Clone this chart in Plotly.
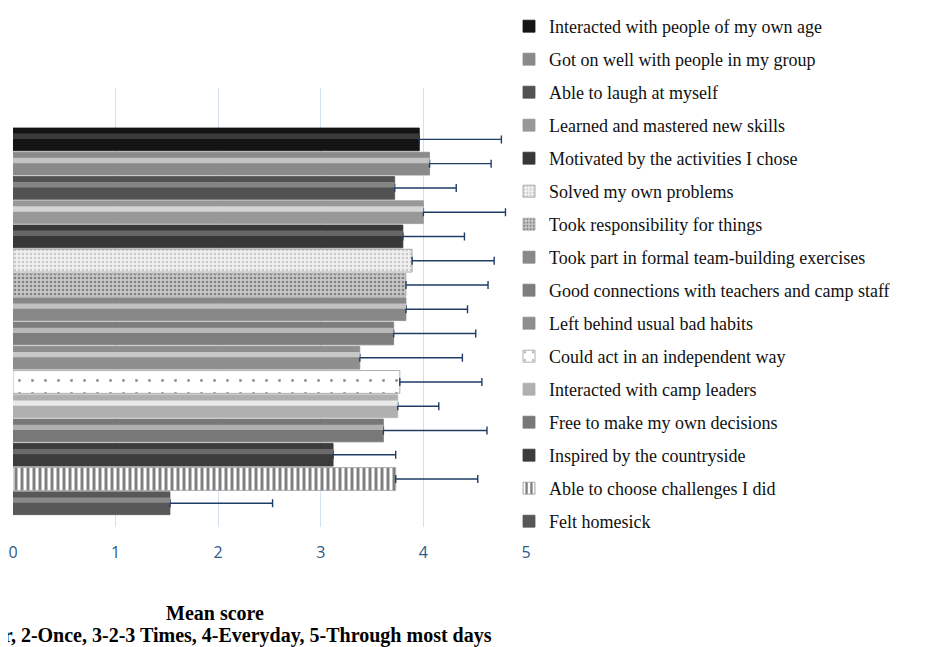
import plotly.graph_objects as go

# Categories, top to bottom as drawn
categories = [
    "Interacted with people of my own age",
    "Got on well with people in my group",
    "Able to laugh at myself",
    "Learned and mastered new skills",
    "Motivated by the activities I chose",
    "Solved my own problems",
    "Took responsibility for things",
    "Took part in formal team-building exercises",
    "Good connections with teachers and camp staff",
    "Left behind usual bad habits",
    "Could act in an independent way",
    "Interacted with camp leaders",
    "Free to make my own decisions",
    "Inspired by the countryside",
    "Able to choose challenges I did",
    "Felt homesick",
]
mean_scores = [3.96, 4.06, 3.72, 4.00, 3.80, 3.89, 3.83, 3.83, 3.71, 3.38, 3.77, 3.75, 3.61, 3.12, 3.73, 1.53]
std_devs = [0.80, 0.60, 0.60, 0.80, 0.60, 0.80, 0.80, 0.60, 0.80, 1.00, 0.80, 0.40, 1.01, 0.61, 0.80, 1.00]
x_ticks = [0, 1, 2, 3, 4, 5]

# styles (not data)
fills = ["#141414", "#8a8a8a", "#525252", "#989898", "#383838", "#ececec", "#a4a4a4", "#888888",
         "#7e7e7e", "#8e8e8e", "#ffffff", "#b0b0b0", "#787878", "#3c3c3c", "#ffffff", "#585858"]
highlights = ["#3a3a3a", "#c4c4c4", "#858585", "#d4d4d4", "#666666", None, None, "#c2c2c2",
              "#b8b8b8", "#c8c8c8", None, "#eaeaea", "#b0b0b0", "#6a6a6a", None, "#8a8a8a"]
patterns = {
    5: dict(shape=".", fgcolor="#9a9a9a", bgcolor="#efefef", size=4, solidity=0.25),
    6: dict(shape=".", fgcolor="#3c3c3c", bgcolor="#c8c8c8", size=4, solidity=0.35),
    10: dict(shape=".", fgcolor="#222222", bgcolor="#ffffff", size=13, solidity=0.04),
    14: dict(shape="|", fgcolor="#000000", bgcolor="#ffffff", size=6, solidity=0.5),
}

order_bottom_up = categories[::-1]

# page has an 8px body margin; figure sized to fit the window
W, H = 918, 639
L, R, T, B = 5, 400, 80, 120
pw, ph = W - L - R, H - T - B

def px_x(px):
    return (px - L) / pw

def px_y(py):
    return (H - B - py) / ph

fig = go.Figure()
for i, (cat, m, s) in enumerate(zip(categories, mean_scores, std_devs)):
    edge = "#9a9a9a" if fills[i] in ("#ffffff", "#ececec") else fills[i]
    marker = dict(color=fills[i], line=dict(width=0.8, color=edge))
    if i in patterns:
        marker["pattern"] = patterns[i]
    fig.add_trace(go.Bar(
        x=[m], y=[cat], orientation="h", name=cat,
        legendgroup="g%d" % i,
        marker=marker,
        error_x=dict(type="data", symmetric=False, array=[s], arrayminus=[0],
                     color="#1f3d66", thickness=1.4, width=4),
    ))
for i, (cat, m) in enumerate(zip(categories, mean_scores)):
    if highlights[i] is None:
        continue
    fig.add_trace(go.Bar(
        x=[m], y=[cat], orientation="h", showlegend=False, hoverinfo="skip",
        width=0.22, offset=0.02, legendgroup="g%d" % i,
        marker=dict(color=highlights[i], line=dict(width=0)),
    ))

title_font = dict(family="Liberation Serif", size=20, color="#000")
fig.add_annotation(text="<b>Mean score</b>", xref="paper", yref="paper",
                   x=px_x(207), y=px_y(605), xanchor="center", yanchor="middle",
                   showarrow=False, font=title_font)
fig.add_annotation(text="<b>1-Never, 2-Once, 3-2-3 Times, 4-Everyday, 5-Through most days</b>",
                   xref="paper", yref="paper",
                   x=px_x(210), y=px_y(627), xanchor="center", yanchor="middle",
                   showarrow=False, font=title_font)

fig.update_layout(
    width=W, height=H,
    margin=dict(l=L, r=R, t=T, b=B, autoexpand=False),
    paper_bgcolor="white", plot_bgcolor="white",
    barmode="overlay", bargap=0.06,
    showlegend=True,
    legend=dict(xref="container", yref="container", x=501 / W, y=1,
                xanchor="left", yanchor="top", traceorder="grouped", tracegroupgap=6.6,
                font=dict(family="Liberation Serif", size=18, color="#111"),
                bgcolor="rgba(0,0,0,0)", maxheight=1),
    xaxis=dict(range=[0, 5], tickvals=x_ticks, showgrid=True, gridcolor="#d3e0f0", gridwidth=1,
               zeroline=False, showline=False, ticks="outside", ticklen=11, tickcolor="rgba(0,0,0,0)",
               tickfont=dict(family="Open Sans", size=16, color="#2e5a8c")),
    yaxis=dict(categoryorder="array", categoryarray=order_bottom_up, range=[-0.98, 17.12],
               showticklabels=False, showgrid=False, zeroline=False, showline=False, ticks=""),
)

fig.write_html("out.html")
